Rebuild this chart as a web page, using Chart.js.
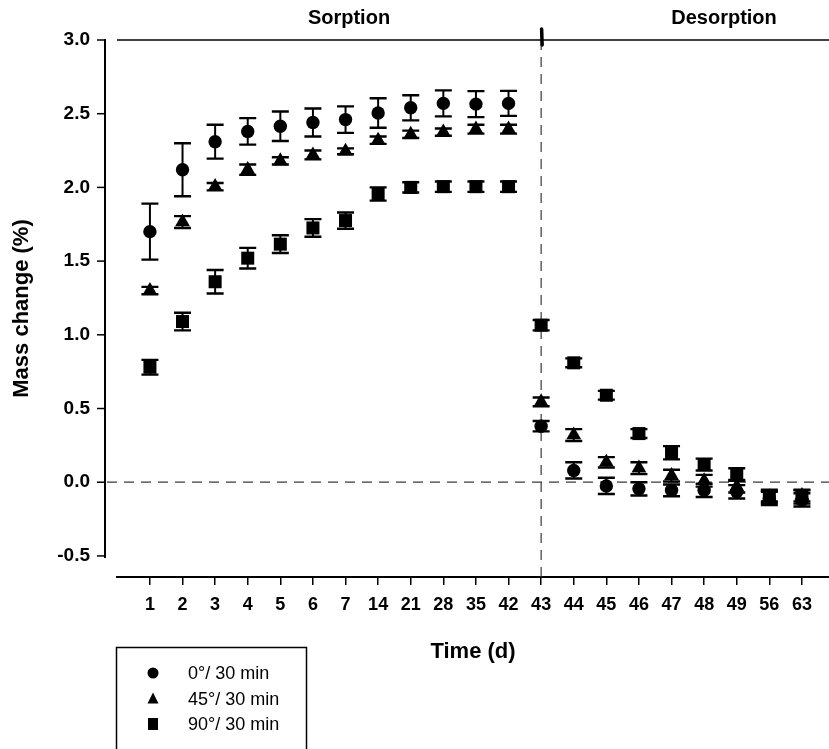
<!DOCTYPE html>
<html>
<head>
<meta charset="utf-8">
<script src="https://cdn.jsdelivr.net/npm/chart.js@4.4.1/dist/chart.umd.min.js"></script>
<style>
  html, body { margin: 0; padding: 0; background: #ffffff; }
  #wrap { width: 829px; height: 749px; position: relative; }
  canvas { display: block; }
</style>
</head>
<body>
<div id="wrap"><canvas id="c" width="829" height="749"></canvas></div>
<script>
// ---- data ----
const categories = ['1','2','3','4','5','6','7','14','21','28','35','42','43','44','45','46','47','48','49','56','63'];
const yTicks = [-0.5, 0.0, 0.5, 1.0, 1.5, 2.0, 2.5, 3.0];
const seriesLabels = ['0°/ 30 min', '45°/ 30 min', '90°/ 30 min'];

const circleValues = [1.70, 2.12, 2.31, 2.38, 2.415, 2.44, 2.46, 2.505, 2.54, 2.57, 2.565, 2.57, 0.38, 0.08, -0.025, -0.045, -0.055, -0.055, -0.065, -0.11, -0.12];
const circleErrors = [0.19, 0.18, 0.115, 0.09, 0.10, 0.095, 0.09, 0.10, 0.085, 0.088, 0.088, 0.085, 0.035, 0.055, 0.055, 0.045, 0.04, 0.045, 0.045, 0.045, 0.045];

const triangleValues = [1.30, 1.765, 2.005, 2.12, 2.18, 2.22, 2.245, 2.32, 2.36, 2.375, 2.395, 2.395, 0.545, 0.32, 0.135, 0.095, 0.045, 0.01, -0.03, -0.10, -0.09];
const triangleErrors = [0.025, 0.04, 0.025, 0.035, 0.025, 0.03, 0.02, 0.025, 0.025, 0.025, 0.03, 0.03, 0.03, 0.04, 0.035, 0.04, 0.04, 0.04, 0.04, 0.04, 0.04];

const squareValues = [0.78, 1.09, 1.36, 1.52, 1.615, 1.725, 1.775, 1.955, 2.0, 2.005, 2.005, 2.005, 1.065, 0.81, 0.59, 0.33, 0.20, 0.12, 0.055, -0.09, -0.10];
const squareErrors = [0.05, 0.06, 0.08, 0.07, 0.06, 0.06, 0.055, 0.045, 0.035, 0.035, 0.035, 0.035, 0.035, 0.03, 0.03, 0.03, 0.045, 0.04, 0.04, 0.04, 0.045];

const phaseLabels = ['Sorption', 'Desorption'];
const phaseBreakCategory = '43';

// ---- helpers ----
const FONT = '"Liberation Sans", Arial, Helvetica, sans-serif';
const toPoints = (vals) => vals.map((v, i) => ({ x: i, y: v }));

const errorBarPlugin = {
  id: 'errorBars',
  afterDatasetsDraw(chart) {
    const ctx = chart.ctx;
    const yScale = chart.scales.y;
    ctx.save();
    ctx.strokeStyle = '#000';
    chart.data.datasets.forEach((ds, di) => {
      const meta = chart.getDatasetMeta(di);
      const errs = ds.errors;
      meta.data.forEach((pt, i) => {
        const v = ds.data[i].y, e = errs[i];
        const yT = yScale.getPixelForValue(v + e);
        const yB = yScale.getPixelForValue(v - e);
        const x = pt.x;
        ctx.lineWidth = 2;
        ctx.beginPath();
        ctx.moveTo(x, yT); ctx.lineTo(x, yB);
        ctx.stroke();
        ctx.lineWidth = 2.4;
        ctx.beginPath();
        ctx.moveTo(x - 8.5, yT); ctx.lineTo(x + 8.5, yT);
        ctx.moveTo(x - 8.5, yB); ctx.lineTo(x + 8.5, yB);
        ctx.stroke();
      });
    });
    ctx.restore();
  }
};

const framePlugin = {
  id: 'frame',
  beforeDatasetsDraw(chart) {
    const ctx = chart.ctx;
    const ca = chart.chartArea;
    const y = chart.scales.y, x = chart.scales.x;
    const y0 = y.getPixelForValue(0);
    const xb = x.getPixelForValue(categories.indexOf(phaseBreakCategory));
    const axisX = ca.left - 12;
    ctx.save();
    // dashed reference lines
    ctx.strokeStyle = '#3a3a3a';
    ctx.lineWidth = 1.2;
    ctx.setLineDash([10, 7]);
    ctx.beginPath();
    ctx.moveTo(axisX + 2, y0); ctx.lineTo(ca.right, y0);
    ctx.stroke();
    ctx.beginPath();
    ctx.moveTo(xb, ca.top); ctx.lineTo(xb, ca.bottom);
    ctx.stroke();
    ctx.setLineDash([]);
    // small mark at top of break line
    ctx.strokeStyle = '#000';
    ctx.lineWidth = 3.5;
    ctx.lineCap = 'round';
    ctx.beginPath();
    ctx.moveTo(xb + 0.5, ca.top - 11); ctx.lineTo(xb + 1, ca.top + 5);
    ctx.stroke();
    ctx.lineCap = 'butt';
    // top line
    ctx.lineWidth = 1.5;
    ctx.beginPath();
    ctx.moveTo(ca.left, ca.top); ctx.lineTo(ca.right, ca.top);
    ctx.stroke();
    // offset y axis
    ctx.lineWidth = 2;
    const yBottom = y.getPixelForValue(yTicks[0]) + 2;
    ctx.beginPath();
    ctx.moveTo(axisX, ca.top - 1); ctx.lineTo(axisX, yBottom);
    ctx.stroke();
    ctx.lineWidth = 1.5;
    yTicks.forEach(v => {
      const py = y.getPixelForValue(v);
      ctx.beginPath();
      ctx.moveTo(axisX - 8, py); ctx.lineTo(axisX, py);
      ctx.stroke();
    });
    // phase labels
    ctx.fillStyle = '#000';
    ctx.font = 'bold 20px ' + FONT;
    ctx.textAlign = 'center';
    ctx.textBaseline = 'middle';
    ctx.fillText(phaseLabels[0], 349, 18);
    ctx.fillText(phaseLabels[1], 724, 18);
    ctx.restore();
  },
  afterDraw(chart) {
    const ctx = chart.ctx;
    ctx.save();
    // legend box
    ctx.strokeStyle = '#000';
    ctx.lineWidth = 1.5;
    ctx.strokeRect(116.5, 647.5, 190, 120);
    ctx.fillStyle = '#000';
    ctx.font = '18px ' + FONT;
    ctx.textAlign = 'left';
    ctx.textBaseline = 'middle';
    const rows = [673, 699, 724];
    chart.data.datasets.forEach((ds, i) => {
      const cy = rows[i], cx = 153;
      ctx.beginPath();
      if (ds.pointStyle === 'circle') {
        ctx.arc(cx, cy, 5.5, 0, Math.PI * 2);
      } else if (ds.pointStyle === 'triangle') {
        ctx.moveTo(cx, cy - 6.5); ctx.lineTo(cx + 5.5, cy + 4.5); ctx.lineTo(cx - 5.5, cy + 4.5); ctx.closePath();
      } else {
        ctx.rect(cx - 5, cy - 6, 10, 12);
      }
      ctx.fill();
      ctx.fillText(ds.label, 188, cy + 1);
    });
    ctx.restore();
  }
};

const datasets = [
  { label: seriesLabels[0], data: toPoints(circleValues), errors: circleErrors, pointStyle: 'circle', pointRadius: 6.7 },
  { label: seriesLabels[1], data: toPoints(triangleValues), errors: triangleErrors, pointStyle: 'triangle', pointRadius: 8.6 },
  { label: seriesLabels[2], data: toPoints(squareValues), errors: squareErrors, pointStyle: 'rect', pointRadius: 9.2 }
].map(d => Object.assign(d, {
  showLine: false,
  backgroundColor: '#000',
  borderColor: '#000',
  borderWidth: 0,
  pointBackgroundColor: '#000',
  pointBorderWidth: 0,
  pointHoverRadius: d.pointRadius
}));

new Chart(document.getElementById('c'), {
  type: 'scatter',
  data: { datasets },
  plugins: [framePlugin, errorBarPlugin],
  options: {
    responsive: false,
    animation: false,
    devicePixelRatio: 1,
    layout: { autoPadding: false, padding: { top: 40, left: 0, right: 0, bottom: 0 } },
    plugins: { legend: { display: false }, tooltip: { enabled: false } },
    scales: {
      x: {
        type: 'linear',
        min: -1.01,
        max: 20.83,
        afterBuildTicks: (s) => { s.ticks = categories.map((c, i) => ({ value: i })); },
        afterFit: (s) => { s.height = 172; s.paddingLeft = 0; s.paddingRight = 0; },
        grid: { display: true, drawOnChartArea: false, drawTicks: true, tickLength: 8, color: '#000', lineWidth: 1.5 },
        border: { display: true, color: '#000', width: 2 },
        ticks: {
          autoSkip: false, maxRotation: 0, minRotation: 0, padding: 9,
          color: '#000',
          font: { family: FONT, size: 18, weight: 'bold' },
          callback: (v) => categories[v] !== undefined ? categories[v] : ''
        },
        title: {
          display: true, text: 'Time (d)', color: '#000',
          font: { family: FONT, size: 22, weight: 'bold' },
          padding: { top: 0, bottom: 84 }
        }
      },
      y: {
        type: 'linear',
        min: -0.643,
        max: 3.0,
        afterBuildTicks: (s) => { s.ticks = yTicks.map(v => ({ value: v })); },
        afterFit: (s) => { s.width = 117; s.paddingTop = 0; s.paddingBottom = 0; },
        grid: { display: false, drawTicks: false },
        border: { display: false },
        ticks: {
          padding: 27, color: '#000',
          font: { family: FONT, size: 19, weight: 'bold' },
          callback: (v) => Number(v).toFixed(1)
        },
        title: {
          display: true, text: 'Mass change (%)', color: '#000',
          font: { family: FONT, size: 22, weight: 'bold' },
          padding: { top: 9, bottom: 0 }
        }
      }
    }
  }
});
</script>
</body>
</html>
